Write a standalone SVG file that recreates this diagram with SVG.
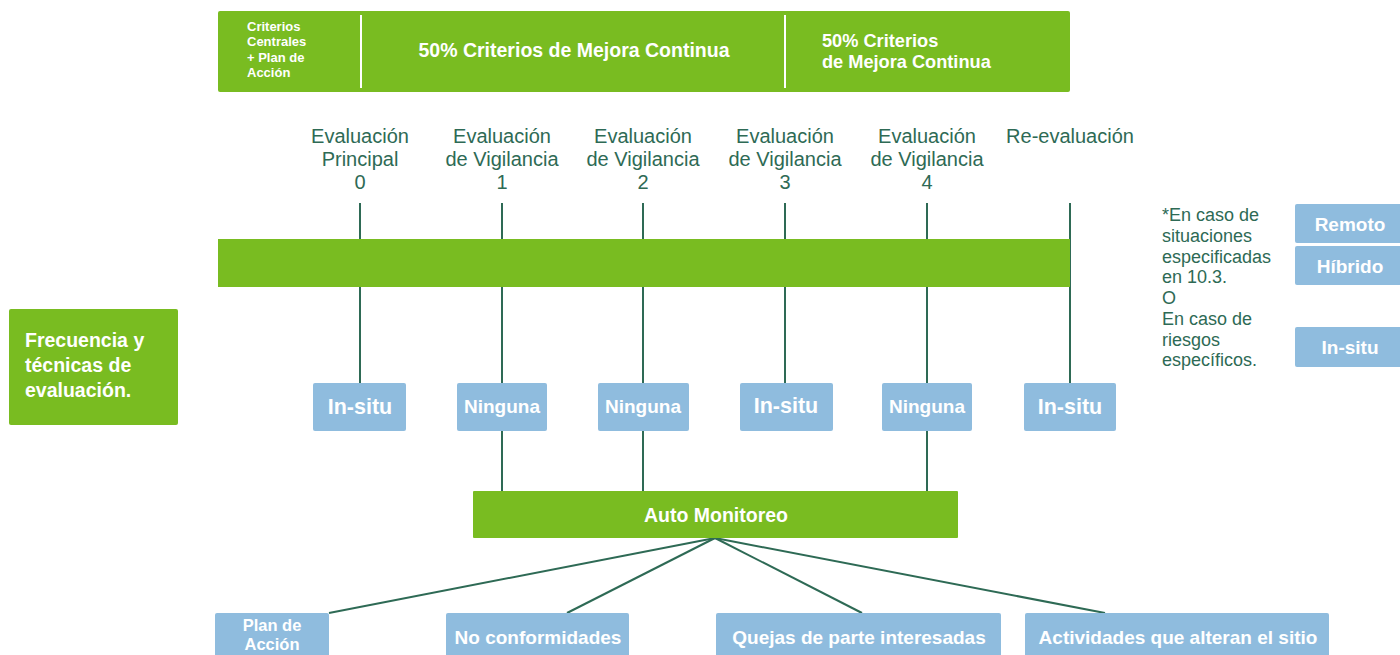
<svg xmlns="http://www.w3.org/2000/svg" width="1400" height="655" viewBox="0 0 1400 655">
<defs>
<style>
.g{fill:#79bc21}
.b{fill:#8fbcde}
.lbl{font-family:"Liberation Sans",Arial,sans-serif;font-size:20px;fill:#2e6a55;text-anchor:middle}
.wt{font-family:"Liberation Sans",Arial,sans-serif;font-weight:bold;fill:#ffffff}
.c{text-anchor:middle}
.ln{stroke:#2e6a55;stroke-width:2;fill:none}
.note{font-family:"Liberation Sans",Arial,sans-serif;font-size:18px;fill:#2e6a55}
</style>
</defs>
<rect width="1400" height="655" fill="#ffffff"/>

<g id="connectors">
<line class="ln" x1="360" y1="203" x2="360" y2="383"/>
<line class="ln" x1="502" y1="203" x2="502" y2="491"/>
<line class="ln" x1="643" y1="203" x2="643" y2="491"/>
<line class="ln" x1="785" y1="203" x2="785" y2="383"/>
<line class="ln" x1="927" y1="203" x2="927" y2="491"/>
<line class="ln" x1="1070" y1="203" x2="1070" y2="383"/>
<line class="ln" x1="715" y1="538" x2="329" y2="613" stroke-width="1.5"/>
<line class="ln" x1="715" y1="538" x2="567" y2="613" stroke-width="1.5"/>
<line class="ln" x1="715" y1="538" x2="862" y2="613" stroke-width="1.5"/>
<line class="ln" x1="715" y1="538" x2="1105" y2="613" stroke-width="1.5"/>
</g>

<g id="top-bar">
<rect class="g" x="218" y="11" width="852" height="81" rx="2"/>
<line x1="361" y1="15" x2="361" y2="88" stroke="#ffffff" stroke-width="2"/>
<line x1="785" y1="15" x2="785" y2="88" stroke="#ffffff" stroke-width="2"/>
<text class="wt" font-size="13"><tspan x="247" y="31">Criterios</tspan><tspan x="247" y="46">Centrales</tspan><tspan x="247" y="62">+ Plan de</tspan><tspan x="247" y="77">Acción</tspan></text>
<text class="wt c" font-size="19.5" x="574" y="57">50% Criterios de Mejora Continua</text>
<text class="wt" font-size="18.2"><tspan x="822" y="47">50% Criterios</tspan><tspan x="822" y="68">de Mejora Continua</tspan></text>
</g>

<g id="labels">
<text class="lbl"><tspan x="360" y="143">Evaluación</tspan><tspan x="360" y="166">Principal</tspan><tspan x="360" y="189">0</tspan></text>
<text class="lbl"><tspan x="502" y="143">Evaluación</tspan><tspan x="502" y="166">de Vigilancia</tspan><tspan x="502" y="189">1</tspan></text>
<text class="lbl"><tspan x="643" y="143">Evaluación</tspan><tspan x="643" y="166">de Vigilancia</tspan><tspan x="643" y="189">2</tspan></text>
<text class="lbl"><tspan x="785" y="143">Evaluación</tspan><tspan x="785" y="166">de Vigilancia</tspan><tspan x="785" y="189">3</tspan></text>
<text class="lbl"><tspan x="927" y="143">Evaluación</tspan><tspan x="927" y="166">de Vigilancia</tspan><tspan x="927" y="189">4</tspan></text>
<text class="lbl"><tspan x="1070" y="143">Re-evaluación</tspan></text>
</g>

<g id="timeline-bar">
<rect class="g" x="218" y="239" width="852" height="48"/>
</g>
<line class="ln" x1="360" y1="287" x2="360" y2="383"/>
<line class="ln" x1="502" y1="287" x2="502" y2="383"/>
<line class="ln" x1="643" y1="287" x2="643" y2="383"/>
<line class="ln" x1="785" y1="287" x2="785" y2="383"/>
<line class="ln" x1="927" y1="287" x2="927" y2="383"/>
<line class="ln" x1="1070" y1="287" x2="1070" y2="383"/>

<g id="frecuencia">
<rect class="g" x="9" y="309" width="169" height="116" rx="2"/>
<text class="wt" font-size="19.5"><tspan x="25" y="347">Frecuencia y</tspan><tspan x="25" y="372">técnicas de</tspan><tspan x="25" y="397">evaluación.</tspan></text>
</g>

<g id="eval0"><rect class="b" x="313" y="383" width="93" height="48" rx="2"/><text class="wt c" font-size="21.5" x="360" y="414">In-situ</text></g>
<g id="eval1"><rect class="b" x="457" y="383" width="90" height="48" rx="2"/><text class="wt c" font-size="19" x="502" y="413">Ninguna</text></g>
<g id="eval2"><rect class="b" x="598" y="383" width="91" height="48" rx="2"/><text class="wt c" font-size="19" x="643" y="413">Ninguna</text></g>
<g id="eval3"><rect class="b" x="740" y="383" width="93" height="48" rx="2"/><text class="wt c" font-size="21.5" x="786" y="413">In-situ</text></g>
<g id="eval4"><rect class="b" x="882" y="383" width="90" height="48" rx="2"/><text class="wt c" font-size="19" x="927" y="413">Ninguna</text></g>
<g id="reeval"><rect class="b" x="1024" y="383" width="92" height="48" rx="2"/><text class="wt c" font-size="21.5" x="1070" y="414">In-situ</text></g>

<g id="auto-monitoreo">
<rect class="g" x="473" y="491" width="485" height="47" rx="1"/>
<text class="wt c" font-size="19.5" x="716" y="522">Auto Monitoreo</text>
</g>

<g id="nota">
<text class="note"><tspan x="1162" y="221">*En caso de</tspan><tspan x="1162" y="242">situaciones</tspan><tspan x="1162" y="263">especificadas</tspan><tspan x="1162" y="283">en 10.3.</tspan><tspan x="1162" y="304">O</tspan><tspan x="1162" y="325">En caso de</tspan><tspan x="1162" y="346">riesgos</tspan><tspan x="1162" y="366">específicos.</tspan></text>
</g>
<g id="remoto"><rect class="b" x="1295" y="204" width="110" height="39" rx="2"/><text class="wt c" font-size="19" x="1350" y="231">Remoto</text></g>
<g id="hibrido"><rect class="b" x="1295" y="246" width="110" height="39" rx="2"/><text class="wt c" font-size="19" x="1350" y="273">Híbrido</text></g>
<g id="insitu-opt"><rect class="b" x="1295" y="327" width="110" height="40" rx="2"/><text class="wt c" font-size="19" x="1350" y="354">In-situ</text></g>

<g id="plan-accion"><rect class="b" x="215" y="613" width="114" height="50" rx="2"/><text class="wt c" font-size="16.5"><tspan x="272" y="631">Plan de</tspan><tspan x="272" y="650">Acción</tspan></text></g>
<g id="no-conformidades"><rect class="b" x="446" y="613" width="183" height="50" rx="2"/><text class="wt c" font-size="19" x="538" y="644">No conformidades</text></g>
<g id="quejas"><rect class="b" x="716" y="613" width="285" height="50" rx="2"/><text class="wt c" font-size="19" x="859" y="644">Quejas de parte interesadas</text></g>
<g id="actividades"><rect class="b" x="1025" y="613" width="304" height="50" rx="2"/><text class="wt c" font-size="19" x="1178" y="644">Actividades que alteran el sitio</text></g>
</svg>
